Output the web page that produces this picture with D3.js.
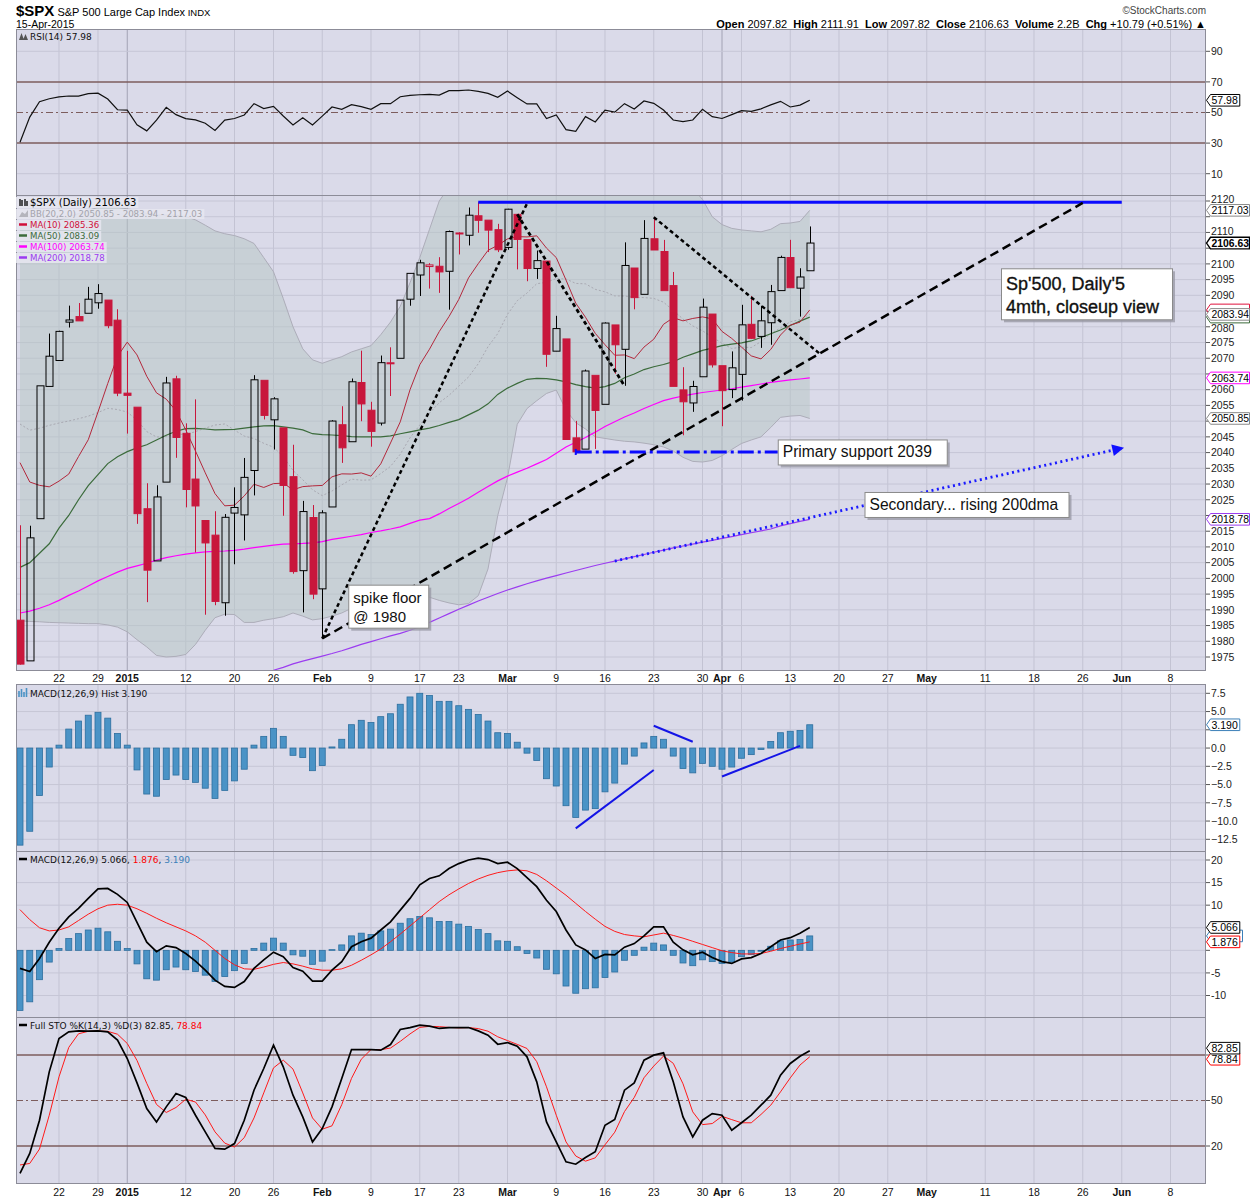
<!DOCTYPE html>
<html><head><meta charset="utf-8">
<script src="https://cdn.jsdelivr.net/npm/d3@7"></script>
<style>
body{margin:0;background:#fff;}
svg{display:block;}
</style></head><body>
<svg id="chart" width="1250" height="1200"></svg>
<script>
// ---------------- DATA ----------------
const dates = ["2014-12-16","2014-12-17","2014-12-18","2014-12-19","2014-12-22","2014-12-23","2014-12-24","2014-12-26","2014-12-29","2014-12-30","2014-12-31",
"2015-01-02","2015-01-05","2015-01-06","2015-01-07","2015-01-08","2015-01-09","2015-01-12","2015-01-13","2015-01-14","2015-01-15","2015-01-16","2015-01-20","2015-01-21","2015-01-22","2015-01-23","2015-01-26","2015-01-27","2015-01-28","2015-01-29","2015-01-30",
"2015-02-02","2015-02-03","2015-02-04","2015-02-05","2015-02-06","2015-02-09","2015-02-10","2015-02-11","2015-02-12","2015-02-13","2015-02-17","2015-02-18","2015-02-19","2015-02-20","2015-02-23","2015-02-24","2015-02-25","2015-02-26","2015-02-27",
"2015-03-02","2015-03-03","2015-03-04","2015-03-05","2015-03-06","2015-03-09","2015-03-10","2015-03-11","2015-03-12","2015-03-13","2015-03-16","2015-03-17","2015-03-18","2015-03-19","2015-03-20","2015-03-23","2015-03-24","2015-03-25","2015-03-26","2015-03-27","2015-03-30","2015-03-31",
"2015-04-01","2015-04-02","2015-04-06","2015-04-07","2015-04-08","2015-04-09","2015-04-10","2015-04-13","2015-04-14","2015-04-15"];
const futureDates = ["2015-04-16","2015-04-17","2015-04-20","2015-04-21","2015-04-22","2015-04-23","2015-04-24","2015-04-27","2015-04-28","2015-04-29","2015-04-30",
"2015-05-01","2015-05-04","2015-05-05","2015-05-06","2015-05-07","2015-05-08","2015-05-11","2015-05-12","2015-05-13","2015-05-14","2015-05-15","2015-05-18","2015-05-19","2015-05-20","2015-05-21","2015-05-22","2015-05-26","2015-05-27","2015-05-28","2015-05-29",
"2015-06-01","2015-06-02","2015-06-03","2015-06-04","2015-06-05","2015-06-08","2015-06-09","2015-06-10","2015-06-11","2015-06-12"];

const prevClose = 1989.63;
const open = [1986.71,1973.77,2018.98,2061.04,2069.28,2081.48,2083.25,2084.30,2087.63,2088.49,2082.11,2058.90,2054.44,2022.15,2005.55,2030.61,2063.45,2046.13,2031.58,2018.40,2013.75,1992.25,2020.76,2020.19,2034.30,2062.98,2050.42,2047.86,2032.34,2002.45,2019.35,1996.67,2022.71,2048.86,2043.45,2062.28,2053.47,2049.38,2068.55,2069.98,2088.78,2096.47,2099.16,2099.25,2097.65,2109.83,2109.10,2115.30,2113.91,2110.88,2105.23,2115.76,2107.72,2098.54,2100.91,2072.25,2076.14,2044.69,2041.10,2064.56,2055.35,2080.59,2072.84,2098.69,2090.32,2107.99,2103.94,2093.10,2059.94,2055.78,2064.11,2084.05,2067.63,2060.03,2064.87,2080.79,2076.94,2081.29,2091.51,2102.03,2092.28,2097.82];
const high = [2016.89,2016.75,2061.23,2077.85,2078.76,2086.73,2087.56,2092.70,2093.55,2088.49,2085.58,2072.36,2054.44,2030.25,2029.61,2064.08,2064.43,2049.30,2056.93,2018.40,2021.35,2020.46,2028.94,2038.29,2064.62,2062.98,2057.62,2047.86,2042.49,2024.64,2023.32,2021.66,2050.30,2054.74,2063.55,2072.40,2056.16,2070.86,2073.48,2088.53,2097.03,2101.30,2100.23,2102.13,2110.61,2110.05,2117.94,2119.59,2113.91,2112.74,2117.52,2115.76,2107.72,2104.25,2100.91,2083.49,2076.14,2050.08,2066.41,2064.56,2081.41,2080.59,2106.85,2098.69,2113.92,2114.86,2107.63,2097.43,2067.15,2062.83,2088.97,2084.05,2067.63,2072.17,2086.99,2089.81,2086.69,2093.31,2102.61,2107.65,2098.62,2111.91];
const low = [1972.56,1973.77,2018.98,2061.03,2069.28,2079.77,2081.86,2084.30,2085.75,2079.53,2057.94,2046.04,2017.34,1992.44,2005.55,2030.61,2038.33,2022.58,2008.25,1988.44,1991.47,1988.12,2004.49,2012.04,2026.38,2050.54,2040.97,2019.91,2001.49,1989.18,1993.38,1980.90,2022.71,2036.72,2043.45,2049.97,2041.88,2048.62,2057.99,2069.98,2086.70,2089.80,2092.15,2090.79,2085.44,2103.00,2105.87,2109.89,2103.76,2103.75,2104.50,2098.26,2094.49,2095.22,2067.27,2072.21,2044.16,2039.69,2041.10,2041.17,2055.35,2065.08,2061.23,2085.56,2090.32,2104.42,2091.50,2061.05,2045.50,2052.96,2064.11,2067.04,2048.38,2057.32,2056.52,2076.10,2073.30,2074.29,2091.51,2092.33,2083.24,2097.82];
const close = [1972.74,2012.89,2061.23,2070.65,2078.54,2082.17,2081.88,2088.77,2090.57,2080.35,2058.90,2058.20,2020.58,2002.61,2025.90,2062.14,2044.81,2028.26,2023.03,2011.27,1992.67,2019.42,2022.55,2032.12,2063.15,2051.82,2057.09,2029.55,2002.16,2021.25,1994.99,2020.85,2050.03,2041.51,2062.52,2055.47,2046.74,2068.59,2068.53,2088.48,2096.99,2100.34,2099.68,2097.45,2110.30,2109.66,2115.48,2113.86,2110.74,2104.50,2117.39,2107.78,2098.53,2101.04,2071.26,2079.43,2044.16,2040.24,2065.95,2053.40,2081.19,2074.28,2099.50,2089.27,2108.10,2104.42,2091.50,2061.05,2056.15,2061.02,2086.24,2067.89,2059.69,2066.96,2080.62,2076.33,2081.90,2091.18,2102.06,2092.43,2095.84,2106.63];

const ma10 = [2036.79,2030.65,2029.58,2029.11,2030.93,2033.17,2038.74,2044.08,2052.91,2061.98,2070.60,2075.13,2071.06,2064.26,2058.99,2056.99,2053.28,2047.23,2040.48,2033.57,2026.95,2023.07,2023.27,2026.22,2029.94,2028.91,2030.14,2030.27,2028.18,2029.18,2029.41,2029.55,2032.30,2033.24,2033.18,2033.54,2032.51,2036.41,2043.05,2049.77,2059.97,2067.92,2072.89,2078.48,2083.26,2088.68,2095.55,2100.08,2104.30,2105.90,2107.94,2108.68,2108.57,2108.93,2105.02,2102.00,2094.87,2087.51,2083.03,2077.92,2074.30,2070.95,2071.05,2069.87,2073.55,2076.05,2080.79,2082.87,2081.89,2082.65,2083.15,2082.51,2078.53,2076.30,2073.55,2070.75,2069.79,2072.80,2077.39,2080.53,2081.49,2085.36];
const bbMid = [2049.08,2047.13,2047.76,2048.65,2049.40,2050.04,2050.78,2051.58,2052.73,2054.08,2053.69,2052.89,2050.32,2046.68,2044.96,2045.08,2046.01,2045.66,2046.69,2047.77,2048.77,2049.10,2047.16,2045.24,2044.47,2042.95,2041.71,2038.75,2034.33,2031.37,2028.18,2026.31,2027.78,2029.73,2031.56,2031.23,2031.32,2033.34,2035.61,2039.47,2044.69,2048.74,2052.59,2055.86,2058.22,2061.11,2064.03,2068.24,2073.67,2077.84,2083.96,2088.30,2090.73,2093.70,2094.14,2095.34,2095.21,2093.79,2093.66,2091.91,2091.12,2089.82,2089.81,2089.40,2089.29,2089.03,2087.83,2085.19,2082.46,2080.28,2078.73,2076.73,2074.79,2073.09,2073.55,2073.40,2075.29,2077.83,2079.64,2081.59,2082.32,2083.94];
const bbUpper = [2112,2112,2113,2114,2114,2115,2116,2117,2118,2118,2118,2117.5,2117,2116,2115.5,2115.5,2115.5,2115,2114,2112.3,2110.5,2109.6,2109,2108,2106.5,2102,2097.5,2089,2080,2073,2069.5,2068.4,2069.5,2070.5,2072,2073,2074,2077.5,2081.5,2086.5,2094,2102,2111,2120,2124.5,2130.5,2136,2142,2144,2136,2136,2128,2127.5,2131,2129.5,2130.8,2137,2138,2140,2139,2138,2135.5,2136,2135.5,2135.5,2135.5,2134,2130,2126.5,2124,2120.5,2115,2112.5,2111.3,2110.8,2110.5,2110.2,2111,2112.8,2113,2113.5,2117.03];
const bbLower = [1986.5,1986.3,1986.2,1986,1985.9,1985.8,1985.7,1985.6,1985.6,1985.2,1984.5,1983,1980.5,1978.2,1975.5,1975,1975.2,1975.8,1979,1983.5,1987.5,1988.6,1988.5,1986,1986,1986.7,1987.2,1987.8,1989,1988,1986.8,1987.2,1988,1989,1990.5,1991.2,1991.8,1993,1993.5,1993.5,1994.5,1995,1994,1993,1992.2,1991.6,1992,1994.5,2003,2020,2032,2049,2054,2056.5,2058.8,2059.9,2053.5,2049.5,2047.5,2045,2044.5,2044,2043.6,2043.4,2043,2042.5,2041.8,2040.5,2038.5,2037.2,2037,2037.5,2039,2041,2042.9,2044,2045,2048,2051.2,2051.6,2051.8,2050.85];
const ma50 = [2003.5,2005,2008,2011,2016,2020,2025,2029.5,2033,2036.5,2038.7,2040.3,2041.5,2042.5,2044,2045.5,2046.8,2047.6,2047.7,2047.5,2047.2,2047.3,2047.4,2047.8,2048.2,2048.5,2048.6,2048.2,2047.8,2047.2,2046,2045.7,2045.6,2045.4,2045.1,2045,2045,2045,2045.3,2046,2046.6,2047.2,2047.8,2048.6,2049.6,2050.5,2052,2053.5,2055.5,2058.5,2060.5,2062,2063.3,2063.6,2063.5,2063.1,2062.5,2061.6,2061,2060.5,2061,2062,2063.8,2065,2066.4,2067.3,2068,2068.9,2070.3,2071.4,2072.5,2073.2,2074,2074.5,2074.9,2075.5,2076.6,2077.8,2079,2080.4,2081.8,2083.09];
const ma100 = [1989,1989.6,1990.5,1991.6,1993,1994.6,1996,1997.6,1999.2,2000.6,2002,2003.2,2004,2004.8,2005.8,2006.6,2007.2,2007.7,2008.1,2008.4,2008.6,2008.7,2008.9,2009.3,2009.8,2010.2,2010.6,2010.9,2011,2011.1,2011.3,2011.7,2012.4,2012.9,2013.4,2013.9,2014.6,2015.1,2015.7,2016.4,2017.5,2018.5,2019,2020.5,2022.2,2023.8,2025.5,2027.4,2029.2,2031,2032.5,2033.8,2035,2036.4,2037.8,2039.8,2041.8,2043.3,2044.8,2046.5,2048.3,2049.8,2051.3,2052.6,2054,2055.3,2056.5,2057.3,2058,2058.6,2059.1,2059.5,2059.9,2060.3,2060.8,2061.3,2061.8,2062.3,2062.7,2063.1,2063.4,2063.74];
const ma200 = [1948,1949,1950,1950.9,1951.8,1952.7,1953.6,1954.5,1955.4,1956.3,1957.2,1958,1958.9,1959.8,1960.6,1961.5,1962.3,1963.2,1964,1964.9,1965.7,1966.5,1967.4,1968.2,1969.1,1970,1970.8,1971.7,1972.8,1973.7,1974.5,1975.3,1976.1,1977,1978,1979,1979.9,1980.8,1981.7,1982.5,1983.5,1984.6,1986,1987.4,1988.8,1990.2,1991.5,1992.8,1994,1995.2,1996.3,1997.3,1998.3,1999.2,2000.1,2000.9,2001.7,2002.5,2003.3,2004.1,2004.8,2005.5,2006.2,2006.9,2007.6,2008.3,2009,2009.7,2010.3,2010.9,2011.5,2012.1,2012.7,2013.3,2013.9,2014.5,2015.1,2015.7,2016.7,2017.4,2018.1,2018.78];

const rsi = [30.5,47,57,59,60.2,60.8,60.7,62.3,62.6,58.8,51.8,51.6,42,38,45,53.4,48.6,46,45.2,43,38.3,45,46.1,48.4,55.8,52.6,54,47.7,41.8,46.6,41.8,47.6,53.6,52.1,55.1,53.8,52.1,55.8,55.8,60.3,61.2,61.6,61.8,61.4,64.3,64.3,64.7,63.8,62.5,59.9,64,59.7,55.6,55.6,46,48.4,38.8,37.7,47.3,43.8,51.6,50.2,55.8,52.3,57.5,56,51.6,45.1,44.1,45.1,52.1,47.3,46.1,48.6,51.2,50.8,52.4,55,57.3,53.6,54.8,57.98];
const macdHist = [-13.3,-11.4,-6.5,-2.6,0.4,2.6,3.7,4.5,4.9,4.1,2.0,0.4,-3.0,-6.3,-6.6,-4.3,-3.7,-4.3,-4.7,-5.5,-6.9,-5.8,-4.5,-2.9,0.4,1.6,2.7,1.6,-1.0,-1.3,-3.1,-2.4,0.15,1.2,3.2,3.8,3.5,4.3,4.7,6.0,7.0,7.5,7.2,6.4,6.4,5.8,5.3,4.6,3.7,2.1,2.0,0.8,-0.7,-1.7,-4.2,-5.2,-7.9,-9.5,-8.5,-8.3,-6.0,-4.8,-2.2,-1.1,0.7,1.6,1.2,-1.1,-2.8,-3.4,-2.1,-2.5,-2.9,-2.6,-1.4,-0.9,-0.2,0.9,2.1,2.3,2.4,3.19];
const macdLine = [-4.0,-4.7,-1.8,1.8,4.9,7.4,9.3,11.5,13.6,13.7,12.4,10.6,6.2,1.8,-0.3,1.0,0.6,-0.7,-2.4,-4.4,-6.6,-8.0,-8.2,-6.9,-4.0,-2.1,-0.4,-1.4,-3.8,-4.6,-6.8,-6.8,-4.4,-2.5,0.8,1.9,2.7,4.5,6.3,8.9,11.5,14.5,15.9,16.5,18.1,19.2,20.0,20.4,20.1,19.2,19.5,18.1,16.1,14.1,11.1,8.6,4.5,1.2,0.1,-1.8,-0.9,-1.0,0.7,1.5,3.2,5.2,5.2,1.8,0.1,-1.0,-0.4,-1.6,-2.5,-2.9,-1.9,-1.6,-0.7,0.8,2.3,2.8,3.8,5.066];
const macdSignal = [9.0,6.8,5.0,4.3,4.5,5.2,6.6,8.0,9.2,10.0,10.2,10.0,9.2,8.2,7.1,6.1,5.2,4.3,3.2,1.8,0.0,-1.8,-3.2,-4.1,-4.2,-3.7,-3.1,-2.7,-3.0,-3.5,-4.1,-4.4,-4.4,-4.1,-3.3,-2.2,-1.0,0.3,1.9,3.6,5.4,7.2,9.0,10.8,12.3,13.6,14.8,15.8,16.6,17.2,17.6,17.8,17.6,16.8,15.4,13.8,12.2,10.4,8.6,6.9,5.3,4.2,3.5,3.2,3.0,3.4,3.8,3.3,2.7,2.0,1.3,0.6,-0.1,-0.5,-0.8,-0.8,-0.7,-0.2,0.4,0.9,1.4,1.876];
const stoK = [1.9,15.1,37,68.9,90.9,95.3,95.9,95.7,95.9,95.3,89.8,77.7,61.6,44.7,35.9,45.8,54.6,52,40.3,29.3,18.4,17.9,21.6,37,56.8,71.1,86.5,72.2,53.5,39.2,22.7,31.5,45.8,64.5,83.6,83.6,83.6,83.2,86.9,96.8,98.1,99.7,99,97.5,98.1,98.1,98.1,95.9,93.1,87.1,88.2,85.8,78.8,62.3,35.9,22.7,9.6,8.0,12.4,16.2,33.7,37.5,56.8,61.6,76.6,79.9,81.4,62.3,39.2,26,37,41.4,40.3,30.4,35.3,40.3,46.9,53.5,66.7,74.4,79.2,82.85];
const stoD = [7.5,8.5,18.0,40.3,65.6,85.0,94.0,95.6,95.8,95.6,93.7,87.6,76.4,61.3,47.4,42.1,45.4,50.8,49.0,40.5,29.3,21.9,19.3,25.5,38.5,55.0,71.5,76.6,70.7,55.0,38.5,31.1,33.3,47.3,64.6,77.2,83.6,83.5,84.6,89.0,93.9,98.2,98.9,98.7,98.2,97.9,98.1,97.4,95.7,92.0,89.5,87.0,84.3,75.6,59.0,40.3,22.7,13.4,10.0,12.2,20.8,29.1,42.7,52.0,65.0,72.7,79.3,74.5,61.0,42.5,34.1,34.8,39.6,37.4,35.3,35.3,40.8,46.9,55.7,64.9,73.4,78.84];

const tickDates = ["2014-12-22","2014-12-29","2015-01-02","2015-01-12","2015-01-20","2015-01-26","2015-02-02","2015-02-09","2015-02-17","2015-02-23","2015-03-02","2015-03-09","2015-03-16","2015-03-23","2015-03-30","2015-04-01","2015-04-06","2015-04-13","2015-04-20","2015-04-27","2015-05-01","2015-05-11","2015-05-18","2015-05-26","2015-06-01","2015-06-08"];
const tickLabels = ["22","29","2015","12","20","26","Feb","9","17","23","Mar","9","16","23","30","Apr","6","13","20","27","May","11","18","26","Jun","8"];
const majorTickDates = ["2015-01-02","2015-04-01"];

const priceTicks = d3.range(1975, 2121, 5);
const rsiTicks = [10,30,50,70,90];
const histTicks = [-12.5,-10,-7.5,-5,-2.5,0,2.5,5,7.5];
const macdTicks = [-10,-5,0,5,10,15,20];
const stoTicks = [20,50,80];

// last-value tags per panel: [value, label]
const mainTags = [[2117.03,"2117.03"],[2106.63,"2106.63"],[2085.36,"2085.36"],[2083.09,"2083.09"],[2083.94,"2083.94"],[2063.74,"2063.74"],[2050.85,"2050.85"],[2018.78,"2018.78"]];
const rsiTags = [[57.98,"57.98"]];
const histTags = [[3.19,"3.190"]];
const macdTags = [[3.19,"3.190"],[5.066,"5.066"],[1.876,"1.876"]];
const stoTags = [[78.84,"78.84"],[82.85,"82.85"]];

// annotation anchors (date, value)
const resistanceLine = [["2015-02-25",2119.59],["2015-06-01",2119.59]];
const spikeRiseLine = [["2015-02-02",1980.9],["2015-03-04",2119.2]];
const risingSupportLine = [["2015-02-02",1980.9],["2015-05-26",2119.4]];
const marchFallLine = [["2015-03-03",2115.76],["2015-03-18",2061.23]];
const lateMarchFallLine = [["2015-03-23",2114.86],["2015-04-16",2071.5]];
const primarySupportLine = [["2015-03-11",2040.2],["2015-04-09",2040.2]];
const secondaryLine = [["2015-03-17",2005.5],["2015-06-01",2041.4]];
const histTrendLines = [[["2015-03-11",-11.0],["2015-03-23",-3.0]],[["2015-03-23",3.05],["2015-03-27",0.86]],[["2015-04-01",-3.9],["2015-04-14",0.3]]];

const noteSpike = {date:"2015-02-04", value:1998, lines:["spike floor","@ 1980"]};
const notePrimary = {date:"2015-04-09", value:2040.2, lines:["Primary support 2039"]};
const noteSecondary = {date:"2015-04-22", value:2023.5, lines:["Secondary... rising 200dma"]};
const noteTitle = {date:"2015-05-12", value:2098.6, lines:["Sp'500, Daily'5","4mth, closeup view"]};

// ---------------- DRAW ----------------
const svg = d3.select('#chart');
const FONT = '"Liberation Sans", Arial, Helvetica, sans-serif';
const LFONT = '"DejaVu Sans", Verdana, sans-serif';
const L = 16, R = 1206;
const BG = '#dadae9';
const RED = '#c8173c';

const allDates = dates.concat(futureDates);
const idx = d => allDates.indexOf(d);
const x = d3.scaleLinear().domain([0, 81]).range([20, 809.75]);
const xd = d => x(idx(d));

const P = { rsi:[29,195], main:[195,670], hist:[684,851], macd:[851,1017], sto:[1017,1183] };
const yRsi = d3.scaleLinear().domain([0,100]).range([189, 36]);
const yMain = d3.scaleLinear().domain([1975,2120]).range([657,201]);
const yHist = d3.scaleLinear().domain([-12.5,7.5]).range([839.3,693.3]);
const yMacd = d3.scaleLinear().domain([-10,20]).range([995.5,860]);
const ySto = d3.scaleLinear().domain([20,80]).range([1146,1055]);

const defs = svg.append('defs');
Object.entries(P).forEach(([k,[t,b]]) => {
  defs.append('clipPath').attr('id','clip-'+k).append('rect')
    .attr('x',L).attr('y',t).attr('width',R-L).attr('height',b-t);
});
defs.append('marker').attr('id','arrowBlue').attr('viewBox','0 0 10 10')
  .attr('refX',8).attr('refY',5).attr('markerWidth',5.5).attr('markerHeight',4.2)
  .attr('orient','auto').attr('markerUnits','strokeWidth')
  .append('path').attr('d','M0,0 L10,5 L0,10 Z').attr('fill','#1010ff');

svg.append('rect').attr('width',1250).attr('height',1200).attr('fill','#fff');

// panel backgrounds + grids
Object.entries(P).forEach(([k,[t,b]]) => {
  svg.append('rect').attr('x',L).attr('y',t).attr('width',R-L).attr('height',b-t).attr('fill',BG);
  const g = svg.append('g').attr('clip-path','url(#clip-'+k+')');
  tickDates.forEach(d => {
    const major = majorTickDates.includes(d);
    g.append('line').attr('x1',xd(d)).attr('x2',xd(d)).attr('y1',t).attr('y2',b)
      .attr('stroke', major ? '#a2a2b4' : '#c3c3d3').attr('stroke-width',1);
  });
});
function hGrid(panel, ticks, y, color){
  const g = svg.append('g').attr('clip-path','url(#clip-'+panel+')');
  ticks.forEach(v => g.append('line').attr('x1',L).attr('x2',R).attr('y1',y(v)).attr('y2',y(v))
    .attr('stroke',color||'#c6c6d6').attr('stroke-width',1));
}
hGrid('main', priceTicks, yMain);
hGrid('rsi', [10,90], yRsi);
hGrid('hist', histTicks, yHist);
hGrid('macd', macdTicks, yMacd);

const gMain = svg.append('g').attr('clip-path','url(#clip-main)');
const idxs = d3.range(dates.length);

// Bollinger band
gMain.append('path').datum(idxs)
  .attr('d', d3.area().x(i=>x(i)).y0(i=>yMain(bbLower[i])).y1(i=>yMain(bbUpper[i])))
  .attr('fill','#b6c5c3').attr('fill-opacity',0.5).attr('stroke','none');
[bbUpper, bbLower].forEach(arr => gMain.append('path').datum(idxs)
  .attr('d', d3.line().x(i=>x(i)).y(i=>yMain(arr[i])))
  .attr('fill','none').attr('stroke','#adadb9').attr('stroke-width',1));
gMain.append('path').datum(idxs)
  .attr('d', d3.line().x(i=>x(i)).y(i=>yMain(bbMid[i])))
  .attr('fill','none').attr('stroke','#a9a9b2').attr('stroke-width',1).attr('stroke-dasharray','2,2');

// moving averages
const maDefs = [[ma200,'#9b3cf0',1.2],[ma100,'#ff00ff',1.2],[ma50,'#3b6b3b',1.2],[ma10,'#b3283c',1]];
maDefs.forEach(([arr,col,w]) => gMain.append('path').datum(idxs)
  .attr('d', d3.line().x(i=>x(i)).y(i=>yMain(arr[i])))
  .attr('fill','none').attr('stroke',col).attr('stroke-width',w));

// candles
idxs.forEach(i => {
  const pc = i === 0 ? prevClose : close[i-1];
  const col = close[i] >= pc ? '#000' : RED;
  const filled = close[i] < open[i];
  const cx = Math.round(x(i)) + 0.5;
  const top = yMain(Math.max(open[i], close[i]));
  const bot = yMain(Math.min(open[i], close[i]));
  gMain.append('line').attr('x1',cx).attr('x2',cx).attr('y1',yMain(high[i])).attr('y2',top).attr('stroke',col).attr('stroke-width',1);
  gMain.append('line').attr('x1',cx).attr('x2',cx).attr('y1',bot).attr('y2',yMain(low[i])).attr('stroke',col).attr('stroke-width',1);
  gMain.append('rect').attr('x',cx-3.5).attr('y',top).attr('width',7).attr('height',Math.max(1,bot-top))
    .attr('fill', filled ? col : 'none').attr('stroke',col).attr('stroke-width',1);
});

// annotations
function seg(g, pts, ys, stroke, w, dash){
  return g.append('path').datum(pts)
    .attr('d', d3.line().x(p=>xd(p[0])).y(p=>ys(p[1])))
    .attr('fill','none').attr('stroke',stroke).attr('stroke-width',w)
    .attr('stroke-dasharray',dash||null);
}
seg(gMain, resistanceLine, yMain, '#0a0aff', 3);
seg(gMain, spikeRiseLine, yMain, '#000', 2.5, '4,3');
seg(gMain, risingSupportLine, yMain, '#000', 2.5, '9,5');
seg(gMain, marchFallLine, yMain, '#000', 2.8, '4,3');
seg(gMain, lateMarchFallLine, yMain, '#000', 2.5, '4,3');
const psY = yMain(primarySupportLine[0][1]);
const psX0 = xd(primarySupportLine[0][0]);
const psX1 = xd(primarySupportLine[1][0]) + 7;
gMain.append('line').attr('x1',psX0).attr('x2',psX1).attr('y1',psY).attr('y2',psY)
  .attr('stroke','#0a0aff').attr('stroke-width',3).attr('stroke-dasharray','16,4,3,4');
gMain.append('line').attr('x1',psX0).attr('x2',psX0).attr('y1',psY-3).attr('y2',psY+3)
  .attr('stroke','#0a0aff').attr('stroke-width',2);
seg(gMain, secondaryLine, yMain, '#1a1aff', 2.8, '2,3.5').attr('marker-end','url(#arrowBlue)');

function noteBox(n, w, h, size, opts={}){
  const bx = xd(n.date) + (opts.dx||6.5);
  const by = opts.center ? yMain(n.value) - h/2 : yMain(n.value);
  const g = svg.append('g');
  g.append('rect').attr('x',bx+3).attr('y',by+3).attr('width',w).attr('height',h).attr('fill','#9a9aa6').attr('opacity',0.8);
  g.append('rect').attr('x',bx+0.5).attr('y',by+0.5).attr('width',w).attr('height',h).attr('fill','#fff').attr('stroke','#8a8a8a').attr('stroke-width',1);
  n.lines.forEach((t,k) => g.append('text').attr('x',bx+5).attr('y',by + (opts.base||17) + k*(opts.lh||19))
    .text(t).attr('font-family',FONT).attr('font-size',size).attr('fill','#111')
    .attr('stroke', opts.heavy ? '#111' : null).attr('stroke-width', opts.heavy ? 0.35 : null));
}
noteBox(noteSpike, 80, 43, 15, {dx:6.5, base:18, lh:19});
noteBox(notePrimary, 169, 25, 15.6, {dx:7, center:true, base:18});
noteBox(noteSecondary, 204, 25, 15.6, {dx:6, center:true, base:18});
noteBox(noteTitle, 171, 51, 18, {dx:6, base:22, lh:23, heavy:true});

// ---- RSI panel ----
const gR = svg.append('g').attr('clip-path','url(#clip-rsi)');
[[70,'solid'],[30,'solid'],[50,'dash']].forEach(([v,s]) => gR.append('line').attr('x1',L).attr('x2',R)
  .attr('y1',yRsi(v)).attr('y2',yRsi(v)).attr('stroke','#7d5d5d').attr('stroke-width',s==='solid'?1.5:1.2)
  .attr('stroke-dasharray', s==='dash' ? '7,3,2,3' : null));
gR.append('path').datum(idxs).attr('d', d3.line().x(i=>x(i)).y(i=>yRsi(rsi[i])))
  .attr('fill','none').attr('stroke','#111').attr('stroke-width',1.2);

// ---- MACD histogram panel ----
const gH = svg.append('g').attr('clip-path','url(#clip-hist)');
idxs.forEach(i => {
  const y0 = yHist(0), y1 = yHist(macdHist[i]);
  gH.append('rect').attr('x',x(i)-3).attr('y',Math.min(y0,y1)).attr('width',6).attr('height',Math.abs(y1-y0))
    .attr('fill','#4a93c6').attr('stroke','#2c6e9e').attr('stroke-width',0.8);
});
histTrendLines.forEach(l => seg(gH, l, yHist, '#1414e6', 2));

// ---- MACD panel ----
const gM = svg.append('g').attr('clip-path','url(#clip-macd)');
idxs.forEach(i => {
  const y0 = yMacd(0), y1 = yMacd(macdHist[i]);
  gM.append('rect').attr('x',x(i)-3).attr('y',Math.min(y0,y1)).attr('width',6).attr('height',Math.abs(y1-y0))
    .attr('fill','#4a93c6').attr('stroke','#2c6e9e').attr('stroke-width',0.8);
});
gM.append('path').datum(idxs).attr('d', d3.line().x(i=>x(i)).y(i=>yMacd(macdSignal[i])))
  .attr('fill','none').attr('stroke','#ff1a1a').attr('stroke-width',1);
gM.append('path').datum(idxs).attr('d', d3.line().x(i=>x(i)).y(i=>yMacd(macdLine[i])))
  .attr('fill','none').attr('stroke','#000').attr('stroke-width',1.7);

// ---- STO panel ----
const gS = svg.append('g').attr('clip-path','url(#clip-sto)');
[[80,'solid'],[20,'solid'],[50,'dash']].forEach(([v,s]) => gS.append('line').attr('x1',L).attr('x2',R)
  .attr('y1',ySto(v)).attr('y2',ySto(v)).attr('stroke','#7d5d5d').attr('stroke-width',s==='solid'?1.5:1.2)
  .attr('stroke-dasharray', s==='dash' ? '7,3,2,3' : null));
gS.append('path').datum(idxs).attr('d', d3.line().x(i=>x(i)).y(i=>ySto(stoD[i])))
  .attr('fill','none').attr('stroke','#ff1a1a').attr('stroke-width',1);
gS.append('path').datum(idxs).attr('d', d3.line().x(i=>x(i)).y(i=>ySto(stoK[i])))
  .attr('fill','none').attr('stroke','#000').attr('stroke-width',1.7);

// frames
Object.values(P).forEach(([t,b]) => svg.append('rect').attr('x',L+0.5).attr('y',t+0.5).attr('width',R-L-1).attr('height',b-t)
  .attr('fill','none').attr('stroke','#8c8c98').attr('stroke-width',1));

// right axes (labels hidden where a value tag sits on top, nudged when a tag is close)
function rightAxis(ticks, y, tags, fmt){
  const tagYs = tags.map(t => y(t[0]));
  ticks.forEach(v => {
    const yy = y(v);
    svg.append('line').attr('x1',R).attr('x2',R+4).attr('y1',yy).attr('y2',yy).attr('stroke','#555');
    if (tagYs.some(ty => Math.abs(ty - yy) < 8.8)) return;
    let shift = 0;
    tagYs.forEach(ty => { const d = yy - ty; if (Math.abs(d) < 11.5) shift += Math.sign(d) * (11.5 - Math.abs(d)); });
    svg.append('text').attr('x',R+5).attr('y',yy+3.8+shift).text(fmt ? fmt(v) : v)
      .attr('font-family',FONT).attr('font-size',10.5).attr('fill','#222');
  });
}
rightAxis(priceTicks, yMain, mainTags);
rightAxis(rsiTicks, yRsi, rsiTags);
rightAxis(histTicks, yHist, histTags, d3.format('.1f'));
rightAxis(macdTicks, yMacd, macdTags);
rightAxis(stoTicks, ySto, stoTags);

function tag(yy, txt, stroke, opts={}){
  const g = svg.append('g');
  const path = g.append('path');
  let w;
  const fs = 10.5;
  const maxW = 1249.5 - (R+4.5);
  if (!opts.noText) {
    const t = g.append('text').attr('x',R+5.5).attr('y',yy+3.8).text(txt).attr('font-family',FONT)
      .attr('font-size',fs).attr('font-weight',opts.bold?'bold':'normal').attr('fill','#000');
    const tl = t.node().getComputedTextLength();
    if (tl > maxW - 1.5) t.attr('textLength', maxW - 1.5).attr('lengthAdjust','spacingAndGlyphs');
    w = Math.min(tl + 3, maxW);
  } else {
    w = Math.min(txt.length*5.8 + 3, maxW);
  }
  const h = 5.8;
  path.attr('d',`M${R+0.5},${yy} L${R+4.5},${yy-h} L${R+4.5+w},${yy-h} L${R+4.5+w},${yy+h} L${R+4.5},${yy+h} Z`)
    .attr('fill','#fff').attr('stroke',stroke).attr('stroke-width',opts.sw||1);
}
const mainTagStyle = {"2117.03":['#8a8a8a'],"2106.63":['#000',{bold:true,sw:1.4}],"2085.36":['#e0103c',{noText:true}],"2083.09":['#3b6b3b',{noText:true}],
  "2083.94":['#8a8a8a'],"2063.74":['#ff00ff'],"2050.85":['#8a8a8a'],"2018.78":['#9b3cf0']};
mainTags.forEach(([v,s]) => tag(yMain(v), s, mainTagStyle[s][0], mainTagStyle[s][1]||{}));
tag(yRsi(rsiTags[0][0]), rsiTags[0][1], '#000');
tag(yHist(histTags[0][0]), histTags[0][1], '#3b7fb8');
tag(yMacd(macdTags[0][0]), macdTags[0][1], '#3b7fb8', {noText:true});
tag(yMacd(macdTags[1][0]), macdTags[1][1], '#000');
tag(yMacd(macdTags[2][0]), macdTags[2][1], '#ff0000');
tag(ySto(stoTags[0][0]) + 2.5, stoTags[0][1], '#ff0000');
tag(ySto(stoTags[1][0]) - 2.5, stoTags[1][1], '#000');

// date labels
function dateLabels(yy){
  tickDates.forEach((d,k) => {
    const lab = tickLabels[k];
    const bold = /[A-Za-z]/.test(lab) || lab.length === 4;
    svg.append('text').attr('x',xd(d)).attr('y',yy).attr('text-anchor','middle').text(lab)
      .attr('font-family',FONT).attr('font-size',10.5).attr('font-weight',bold?'bold':'normal').attr('fill','#111');
  });
}
dateLabels(681.5);
dateLabels(1195.5);

// header
const hdr = svg.append('text').attr('x',16).attr('y',16).attr('font-family',FONT).attr('fill','#000');
hdr.append('tspan').text('$SPX').attr('font-size',15).attr('font-weight','bold');
hdr.append('tspan').text(' S&P 500 Large Cap Index').attr('font-size',11);
hdr.append('tspan').text(' INDX').attr('font-size',9.5);
svg.append('text').attr('x',16).attr('y',27.5).text('15-Apr-2015').attr('font-family',FONT).attr('font-size',10.5).attr('fill','#000');
svg.append('text').attr('x',R).attr('y',14).attr('text-anchor','end').text('©StockCharts.com')
  .attr('font-family',FONT).attr('font-size',10).attr('fill','#444');
const ohlc = svg.append('text').attr('x',R).attr('y',27.5).attr('text-anchor','end').attr('font-family',FONT).attr('font-size',11).attr('fill','#000').attr('style','white-space:pre');
[['Open',' 2097.82  '],['High',' 2111.91  '],['Low',' 2097.82  '],['Close',' 2106.63  '],['Volume',' 2.2B  '],['Chg',' +10.79 (+0.51%) ▲']].forEach(([a,b]) => {
  ohlc.append('tspan').text(a).attr('font-weight','bold');
  ohlc.append('tspan').text(b);
});

// legends
function legendRow(xx, yy, parts, size, bg){
  const t = svg.append('text').attr('x',xx).attr('y',yy).attr('font-family',LFONT).attr('font-size',size);
  parts.forEach(([s,c]) => t.append('tspan').text(s).attr('fill',c));
  if (bg) {
    const bb = t.node().getBBox();
    svg.insert('rect', () => t.node()).attr('x',bb.x-14).attr('y',bb.y).attr('width',bb.width+16).attr('height',bb.height)
      .attr('fill','#e6e6f0').attr('opacity',0.85);
  }
  return t;
}
function legendDash(xx, yy, col){
  svg.append('line').attr('x1',xx).attr('x2',xx+8).attr('y1',yy).attr('y2',yy).attr('stroke',col).attr('stroke-width',2.5);
}
legendRow(30, 206, [['$SPX (Daily) 2106.63','#000']], 10, true);
svg.append('path').attr('d','M20,199 v7 M22,200 v6 M25,199 v7 M27,201 v5').attr('stroke','#000').attr('stroke-width',1.3);
legendRow(30, 217, [['BB(20,2.0) 2050.85 - 2083.94 - 2117.03','#a3a3ab']], 8.6, true);
svg.append('path').attr('d','M19,217 L22,212 L25,214 L28,210 L28,217 Z').attr('fill','#b5b5bd');
const maLeg = [['MA(10) 2085.36','#d0103a',228],['MA(50) 2083.09','#3b6b3b',239],['MA(100) 2063.74','#ff00ff',250],['MA(200) 2018.78','#9b3cf0',261]];
maLeg.forEach(([s,c,yy]) => { legendRow(30, yy, [[s,c]], 8.6, true); legendDash(19, yy-3.5, c); });

svg.append('path').attr('d','M19,40 L21.5,33 L24,40 Z M23,40 L25.5,34 L28,40 Z').attr('fill','#555');
legendRow(30, 40, [['RSI(14) 57.98','#111']], 9, false);
svg.append('path').attr('d','M19,697 v-6 M21.5,697 v-8 M24,697 v-5 M26.5,697 v-9').attr('stroke','#4a93c6').attr('stroke-width',1.6);
legendRow(30, 697, [['MACD(12,26,9) Hist 3.190','#111']], 9, false);
legendDash(19, 859, '#000');
legendRow(30, 862.5, [['MACD(12,26,9) 5.066, ','#111'],['1.876','#ff0000'],[', ','#111'],['3.190','#3b7fb8']], 9, false);
legendDash(19, 1025, '#000');
legendRow(30, 1028.5, [['Full STO %K(14,3) %D(3) 82.85, ','#111'],['78.84','#ff0000']], 9, false);
</script>
</body></html>
